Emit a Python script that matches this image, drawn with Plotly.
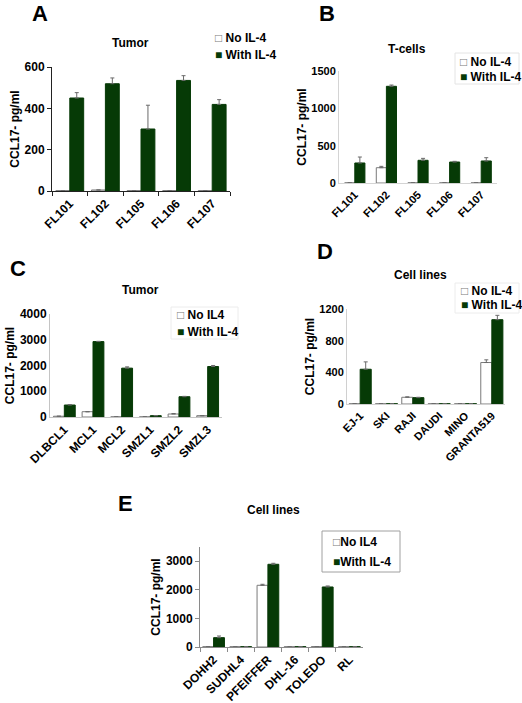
import plotly.graph_objects as go

# ---------------- data ----------------
A_cats = ["FL101", "FL102", "FL105", "FL106", "FL107"]
A_no = [2, 5, 2, 2, 2]
A_no_err = [None, None, None, None, None]
A_with = [450, 519, 300, 535, 419]
A_with_err = [26, 28, 115, 23, 23]

B_cats = ["FL101", "FL102", "FL105", "FL106", "FL107"]
B_no = [2, 205, 2, 2, 2]
B_no_err = [None, 18, None, None, None]
B_with = [268, 1295, 304, 281, 295]
B_with_err = [80, 17, 26, 9, 44]

C_cats = ["DLBCL1", "MCL1", "MCL2", "SMZL1", "SMZL2", "SMZL3"]
C_no = [30, 206, 5, 5, 116, 52]
C_no_err = [None, None, None, None, 20, None]
C_with = [465, 2929, 1897, 52, 787, 1961]
C_with_err = [20, 10, 50, None, 15, 40]

D_cats = ["EJ-1", "SKI", "RAJI", "DAUDI", "MINO", "GRANTA519"]
D_no = [3, 3, 85, 3, 3, 524]
D_no_err = [None, None, 5, None, None, 34]
D_with = [439, 3, 80, 3, 3, 1065]
D_with_err = [93, None, 5, None, None, 55]

E_cats = ["DOHH2", "SUDHL4", "PFEIFFER", "DHL-16", "TOLEDO", "RL"]
E_no = [10, 10, 2160, 10, 15, 10]
E_no_err = [None, None, 35, None, None, None]
E_with = [327, 10, 2895, 10, 2101, 10]
E_with_err = [58, None, 35, None, 35, None]

W, H = 522, 703
GREEN = "#063a06"
OUTLINE = "#7a7a7a"
FONT = "Arial, Liberation Sans, sans-serif"

fig = go.Figure()

panels = [
    dict(cats=A_cats, no=A_no, noe=A_no_err, w=A_with, we=A_with_err,
         names=("No IL-4", "With IL-4"), box=(52, 230, 67, 191), yr=[0, 600],
         tv=[0, 200, 400, 600], bw=0.39, ac="#222222", tl=4,
         title="Tumor", txy=(130, 43), letter="A", lxy=(40, 14),
         leg=(213, 38, 55), legbox=None, sep=" ", fs=12),
    dict(cats=B_cats, no=B_no, noe=B_no_err, w=B_with, we=B_with_err,
         names=("No IL-4", "With IL-4"), box=(339, 497, 71, 183), yr=[0, 1500],
         tv=[0, 500, 1000, 1500], bw=0.32, ac="#d4d4d4", tl=0,
         title="T-cells", txy=(407, 49), letter="B", lxy=(327, 14),
         leg=(458, 62, 77), legbox=(455, 519, 53, 84, "#e4e4e4"), sep=" ", fs=11),
    dict(cats=C_cats, no=C_no, noe=C_no_err, w=C_with, we=C_with_err,
         names=("No IL4", "With IL-4"), box=(50, 222, 314, 417), yr=[0, 4000],
         tv=[0, 1000, 2000, 3000, 4000], bw=0.38, ac="#c4c4c4", tl=0,
         title="Tumor", txy=(140, 290), letter="C", lxy=(18, 268),
         leg=(175, 315, 332), legbox=(171, 238, 307, 339, "#ececec"), sep=" ", fs=12),
    dict(cats=D_cats, no=D_no, noe=D_no_err, w=D_with, we=D_with_err,
         names=("No IL-4", "With IL-4"), box=(347, 505, 309, 404), yr=[0, 1200],
         tv=[0, 400, 800, 1200], bw=0.42, ac="#d0d0d0", tl=0,
         title="Cell lines", txy=(420, 275), letter="D", lxy=(325, 252),
         leg=(459, 291, 305), legbox=(455, 519, 283, 313, "#ececec"), sep=" ", fs=11),
    dict(cats=E_cats, no=E_no, noe=E_no_err, w=E_with, we=E_with_err,
         names=("No IL4", "With IL-4"), box=(200, 363, 547, 647), yr=[0, 3500],
         tv=[0, 1000, 2000, 3000], bw=0.40, ac="#8a8a8a", tl=4,
         title="Cell lines", txy=(273, 510), letter="E", lxy=(125, 503),
         leg=(331, 542, 562), legbox=(322, 400, 531, 572, "#a0a0a0"), sep="", fs=12),
]

annotations = []
shapes = []
layout_axes = {}


def err(vals):
    return dict(type="data", symmetric=False, array=vals,
                arrayminus=[0] * len(vals), color="#6a6a6a",
                thickness=1, width=2)


for i, p in enumerate(panels):
    n = i + 1
    xa = "x" if n == 1 else f"x{n}"
    ya = "y" if n == 1 else f"y{n}"
    l, r, t, b = p["box"]
    bw = p["bw"]

    fig.add_trace(go.Bar(
        x=p["cats"], y=p["no"], name=p["names"][0], xaxis=xa, yaxis=ya,
        width=bw, offset=-bw, showlegend=False,
        marker=dict(color="white", line=dict(color=OUTLINE, width=1)),
        error_y=err(p["noe"]),
    ))
    fig.add_trace(go.Bar(
        x=p["cats"], y=p["w"], name=p["names"][1], xaxis=xa, yaxis=ya,
        width=bw, offset=0, showlegend=False,
        marker=dict(color=GREEN, line=dict(color=GREEN, width=1)),
        error_y=err(p["we"]),
    ))

    tickfont = dict(family=FONT, size=p["fs"], color="black", weight="bold")
    xkey = "xaxis" if n == 1 else f"xaxis{n}"
    ykey = "yaxis" if n == 1 else f"yaxis{n}"
    layout_axes[xkey] = dict(
        domain=[l / W, r / W], anchor=ya, type="category", automargin=False,
        showline=True, linecolor=p["ac"], linewidth=1,
        ticks="outside" if p["tl"] else "", ticklen=p["tl"], tickcolor=p["ac"],
        tickson="boundaries", tickangle=-45, tickfont=tickfont,
        showgrid=False, zeroline=False, fixedrange=True,
    )
    layout_axes[ykey] = dict(
        domain=[1 - b / H, 1 - t / H], anchor=xa, range=p["yr"], automargin=False,
        tickvals=p["tv"], showline=True, linecolor=p["ac"], linewidth=1,
        ticks="outside" if p["tl"] else "", ticklen=p["tl"], tickcolor=p["ac"],
        tickfont=tickfont, showgrid=False, zeroline=False, fixedrange=True,
        title=dict(text="CCL17- pg/ml", standoff=2,
                   font=dict(family=FONT, size=12, color="black", weight="bold")),
    )

    # panel title and letter
    annotations.append(dict(
        text=p["title"], x=p["txy"][0] / W, y=1 - p["txy"][1] / H,
        xref="paper", yref="paper", showarrow=False,
        xanchor="center", yanchor="middle",
        font=dict(family=FONT, size=12, color="black", weight="bold"),
    ))
    annotations.append(dict(
        text=p["letter"], x=p["lxy"][0] / W, y=1 - p["lxy"][1] / H,
        xref="paper", yref="paper", showarrow=False,
        xanchor="center", yanchor="middle",
        font=dict(family=FONT, size=22, color="black", weight="bold"),
    ))

    # legend (key squares + series names)
    lx, ly1, ly2 = p["leg"]
    keys = [f'<span style="color:{OUTLINE}">□</span>{p["sep"]}{p["names"][0]}',
            f'<span style="color:{GREEN}">■</span>{p["sep"]}{p["names"][1]}']
    for txt, yy in zip(keys, (ly1, ly2)):
        annotations.append(dict(
            text=txt, x=lx / W, y=1 - yy / H, xref="paper", yref="paper",
            showarrow=False, xanchor="left", yanchor="middle",
            font=dict(family=FONT, size=12, color="black", weight="bold"),
        ))
    if p["legbox"]:
        x0, x1, y0, y1, col = p["legbox"]
        shapes.append(dict(type="rect", xref="paper", yref="paper",
                           x0=x0 / W, x1=x1 / W, y0=1 - y1 / H, y1=1 - y0 / H,
                           line=dict(color=col, width=1), fillcolor="rgba(0,0,0,0)"))

fig.update_layout(
    width=W, height=H, margin=dict(l=0, r=0, t=0, b=0),
    paper_bgcolor="white", plot_bgcolor="white",
    showlegend=False, annotations=annotations, shapes=shapes, barmode="overlay",
    **layout_axes,
)

fig.write_html(
    "out.html",
    config={"displayModeBar": False, "staticPlot": True},
    post_script="document.body.style.margin='0';document.body.style.overflow='hidden';",
)
